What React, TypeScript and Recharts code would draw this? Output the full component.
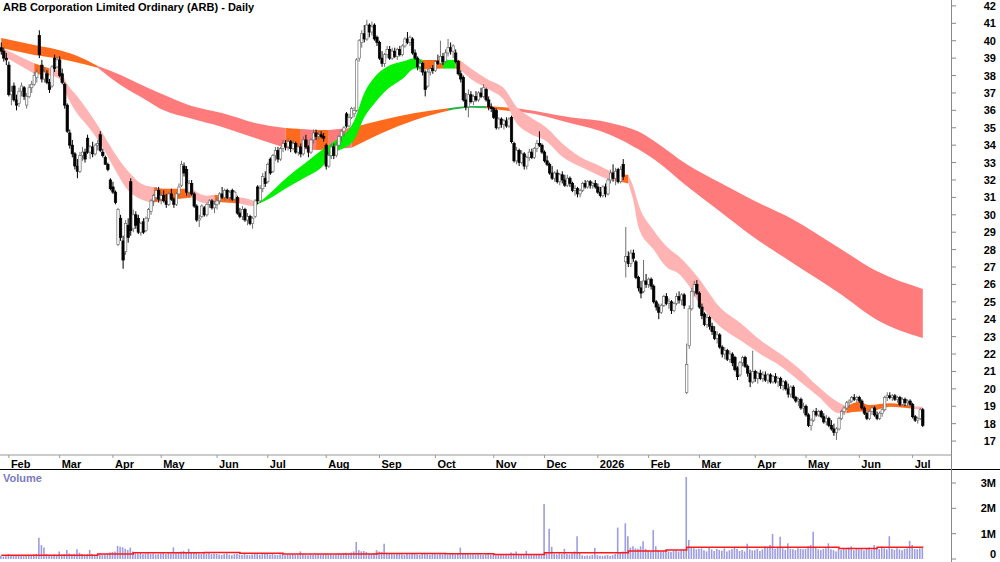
import { ComposedChart, Bar, Area, Line, XAxis, YAxis } from 'recharts'

const FONT = "'Liberation Sans', Arial, sans-serif"

// month labels and trading days in each month (first one is the tail of Jan 2025)
const months = ['Jan', 'Feb', 'Mar', 'Apr', 'May', 'Jun', 'Jul', 'Aug', 'Sep', 'Oct', 'Nov', 'Dec', '2026', 'Feb', 'Mar', 'Apr', 'May', 'Jun', 'Jul']
const monthDays = [3, 20, 21, 19, 22, 20, 23, 21, 22, 23, 20, 21, 20, 20, 22, 20, 21, 21, 5]
const emptySlots = 11

const priceTicks = [17, 18, 19, 20, 21, 22, 23, 24, 25, 26, 27, 28, 29, 30, 31, 32, 33, 34, 35, 36, 37, 38, 39, 40, 41, 42]
const volTicks = [0, 1, 2, 3]

// daily open, high, low, close
const ohlc: number[][] = [
  // Jan 25
  [39.6, 39.9, 39.2, 39.4], [39.4, 39.6, 38.8, 39.0], [39.0, 39.3, 38.6, 38.9],
  // Feb
  [38.6, 38.8, 36.8, 36.9], [36.9, 37.4, 36.3, 37.1], [37.4, 37.6, 36.5, 36.6], [36.6, 36.9, 36.0, 36.3], [36.4, 37.3, 36.2, 37.1],
  [37.1, 37.6, 36.8, 37.4], [37.3, 37.4, 36.6, 36.8], [36.3, 37.0, 36.1, 36.8], [36.8, 37.5, 36.7, 37.3], [37.3, 37.7, 37.0, 37.5],
  [37.5, 38.2, 37.4, 38.0], [37.9, 38.4, 37.6, 38.2], [40.3, 40.6, 39.0, 39.2], [38.6, 38.9, 37.6, 37.8], [37.8, 38.4, 37.6, 38.2],
  [38.1, 38.3, 37.5, 37.6], [37.6, 37.8, 37.0, 37.2], [37.4, 38.6, 37.3, 38.5], [39.0, 39.2, 38.2, 38.4], [38.5, 39.1, 38.4, 38.9],
  // Mar
  [38.9, 39.1, 37.9, 38.0], [38.1, 38.4, 37.5, 37.6], [37.5, 37.6, 36.1, 36.3], [36.3, 36.4, 34.7, 34.8], [34.7, 34.9, 33.8, 34.0],
  [34.0, 34.3, 33.3, 33.5], [33.5, 33.6, 32.6, 32.8], [32.8, 33.2, 32.1, 32.5], [32.5, 33.6, 32.4, 33.4], [33.4, 33.9, 33.1, 33.6],
  [33.6, 33.8, 33.0, 33.2], [34.4, 34.6, 33.5, 33.6], [33.6, 34.0, 33.2, 33.9], [33.9, 34.2, 33.3, 33.5], [33.5, 34.1, 33.4, 34.0],
  [34.0, 34.3, 33.7, 34.1], [34.6, 34.8, 33.6, 33.7], [33.6, 33.8, 33.3, 33.4], [33.3, 33.4, 32.9, 32.9], [32.9, 33.0, 32.5, 32.6],
  [32.0, 32.1, 31.4, 31.5],
  // Apr
  [31.6, 31.9, 31.2, 31.3], [31.3, 31.4, 30.6, 30.7], [28.3, 30.4, 28.2, 30.3], [29.8, 30.0, 28.5, 28.7], [28.5, 28.8, 26.9, 27.4],
  [27.9, 29.7, 27.7, 29.5], [29.4, 29.8, 28.4, 28.7], [31.9, 32.1, 28.8, 29.1], [29.2, 30.3, 29.0, 30.0], [30.0, 30.2, 29.2, 29.4],
  [29.8, 30.0, 28.9, 29.0], [29.0, 29.6, 28.8, 29.5], [29.6, 29.8, 28.9, 29.0], [29.1, 29.9, 29.0, 29.8], [29.8, 30.4, 29.6, 30.3],
  [30.2, 30.9, 30.0, 30.8], [30.8, 31.2, 30.5, 31.1], [31.0, 31.6, 30.8, 31.4], [31.4, 31.6, 30.7, 30.9],
  // May
  [30.9, 31.3, 30.6, 31.1], [31.1, 31.4, 30.7, 30.8], [30.8, 31.2, 30.4, 30.6], [30.6, 31.3, 30.5, 31.2], [31.2, 31.5, 30.8, 30.9],
  [30.9, 31.0, 30.4, 30.6], [30.6, 31.3, 30.5, 31.2], [31.2, 31.8, 31.0, 31.6], [31.7, 33.1, 31.6, 32.9], [32.8, 33.0, 32.2, 32.4],
  [32.6, 32.8, 31.1, 31.3], [31.3, 32.0, 31.0, 31.8], [31.8, 32.0, 31.1, 31.2], [31.2, 31.3, 30.4, 30.5], [30.5, 30.6, 29.6, 29.7],
  [29.7, 30.0, 29.3, 29.8], [29.9, 30.6, 29.8, 30.5], [30.4, 30.5, 29.9, 30.0], [30.0, 30.7, 29.9, 30.6], [30.6, 30.9, 30.4, 30.8],
  [30.8, 30.9, 30.3, 30.4], [30.4, 30.8, 30.1, 30.6],
  // Jun
  [30.6, 31.0, 30.3, 30.8], [30.8, 31.3, 30.6, 31.2], [31.2, 31.6, 30.9, 31.0], [31.0, 31.5, 30.8, 31.4], [31.4, 31.5, 30.9, 31.0],
  [31.0, 31.4, 30.8, 31.3], [31.4, 31.5, 30.8, 30.9], [30.9, 31.4, 30.8, 31.3], [31.0, 31.1, 30.0, 30.1], [30.1, 30.4, 29.8, 29.9],
  [29.9, 30.5, 29.7, 30.3], [30.3, 30.4, 29.6, 29.7], [29.7, 30.1, 29.4, 29.9], [29.9, 30.0, 29.4, 29.5], [29.5, 29.9, 29.2, 29.8],
  [29.9, 30.9, 29.8, 30.8], [31.6, 31.7, 30.6, 30.8], [30.8, 31.7, 30.7, 31.5], [31.5, 32.4, 31.3, 32.2], [32.1, 32.5, 31.6, 31.8],
  // Jul
  [31.9, 33.0, 31.8, 32.9], [33.2, 33.3, 32.3, 32.4], [32.5, 33.5, 32.4, 33.4], [33.4, 33.9, 33.1, 33.7], [33.7, 33.9, 33.0, 33.2],
  [33.2, 33.9, 33.1, 33.8], [33.8, 34.3, 33.6, 34.1], [34.1, 34.3, 33.7, 33.9], [33.9, 34.4, 33.7, 34.2], [34.2, 34.3, 33.6, 33.8],
  [33.8, 34.3, 33.7, 34.1], [34.1, 34.2, 33.5, 33.6], [33.6, 34.0, 33.4, 33.9], [33.9, 34.1, 33.3, 33.5], [33.5, 34.5, 33.4, 34.3],
  [34.3, 34.6, 33.8, 33.9], [33.9, 34.0, 33.3, 33.6], [33.6, 34.4, 33.5, 34.3], [34.3, 34.9, 34.1, 34.7], [34.7, 34.9, 34.3, 34.5],
  [34.5, 34.8, 34.3, 34.6], [34.6, 34.8, 34.4, 34.5], [34.5, 34.7, 34.2, 34.4],
  // Aug
  [34.0, 34.1, 32.6, 32.8], [32.8, 33.6, 32.7, 33.4], [33.4, 34.1, 33.2, 33.9], [33.9, 34.1, 33.2, 33.4], [33.4, 34.2, 33.3, 34.0],
  [34.0, 34.6, 33.9, 34.5], [34.5, 34.9, 34.2, 34.8], [34.8, 35.1, 34.5, 35.0], [35.8, 35.9, 35.0, 35.1], [35.1, 35.8, 35.0, 35.6],
  [35.6, 36.2, 35.5, 36.1], [35.8, 36.2, 35.6, 36.0], [36.0, 39.0, 35.9, 38.9], [39.0, 40.1, 38.8, 40.0], [39.9, 40.6, 39.6, 40.4],
  [40.4, 40.9, 39.9, 40.1], [40.1, 41.2, 40.0, 40.9], [40.9, 41.0, 40.2, 40.5], [40.5, 41.1, 40.3, 40.8], [40.9, 41.0, 40.0, 40.1],
  [40.2, 40.3, 39.7, 39.9],
  // Sep
  [39.9, 40.0, 38.9, 39.0], [39.0, 39.4, 38.5, 38.7], [38.7, 39.3, 38.5, 39.2], [39.2, 39.7, 39.0, 39.5], [39.5, 39.7, 38.9, 39.0],
  [39.0, 39.6, 38.9, 39.4], [39.4, 39.6, 39.0, 39.1], [39.1, 39.6, 38.9, 39.5], [39.5, 39.7, 39.1, 39.2], [39.2, 39.8, 39.1, 39.7],
  [39.7, 40.2, 39.6, 40.1], [40.1, 40.5, 39.8, 39.9], [39.9, 40.3, 39.7, 40.2], [40.1, 40.2, 39.2, 39.3], [39.3, 39.5, 38.9, 39.0],
  [39.0, 39.1, 38.3, 38.5], [38.5, 38.9, 38.2, 38.7], [38.7, 38.8, 38.0, 38.2], [38.2, 38.3, 36.8, 37.2], [37.4, 38.4, 37.3, 38.2],
  [38.2, 38.5, 38.0, 38.4], [38.4, 38.6, 38.1, 38.3],
  // Oct
  [38.3, 38.9, 38.2, 38.8], [38.8, 39.2, 38.6, 38.7], [38.7, 40.0, 38.6, 39.1], [39.1, 39.3, 38.6, 38.8], [38.8, 39.5, 38.7, 39.3],
  [39.3, 40.1, 39.1, 39.6], [39.6, 39.9, 39.2, 39.4], [39.4, 39.8, 39.0, 39.7], [39.3, 39.5, 38.7, 38.8], [38.8, 38.9, 38.0, 38.1],
  [38.1, 38.3, 37.6, 37.8], [37.9, 38.0, 36.5, 36.6], [36.6, 37.0, 36.0, 36.2], [36.2, 37.2, 35.6, 36.9], [36.9, 37.1, 36.4, 36.5],
  [36.5, 36.9, 36.3, 36.8], [36.8, 37.1, 36.5, 36.6], [36.6, 37.1, 36.5, 37.0], [37.0, 37.3, 36.7, 36.8], [36.8, 37.5, 36.7, 37.3],
  [37.2, 37.3, 36.5, 36.6], [36.6, 36.8, 36.0, 36.2], [36.2, 36.4, 35.9, 36.1],
  // Nov
  [36.1, 36.2, 35.5, 35.6], [36.0, 36.1, 34.9, 35.0], [35.0, 35.6, 34.9, 35.5], [35.5, 35.6, 35.0, 35.2], [35.2, 35.5, 34.9, 35.4],
  [35.4, 35.6, 35.0, 35.1], [35.1, 35.6, 35.0, 35.5], [35.6, 35.7, 34.1, 34.2], [34.1, 34.2, 33.0, 33.1], [33.1, 33.9, 32.9, 33.7],
  [33.7, 33.8, 32.8, 33.0], [33.0, 33.7, 32.9, 33.5], [33.5, 33.6, 32.6, 32.8], [32.8, 33.4, 32.6, 33.3], [33.3, 33.8, 33.1, 33.6],
  [33.6, 33.8, 33.2, 33.3], [33.3, 33.9, 33.2, 33.8], [33.8, 34.3, 33.6, 34.1], [34.1, 34.8, 33.9, 34.0], [34.0, 34.1, 33.5, 33.6],
  // Dec
  [33.6, 33.7, 33.0, 33.1], [33.1, 33.4, 32.8, 32.9], [32.9, 33.0, 32.3, 32.4], [32.4, 32.8, 32.0, 32.1], [32.1, 32.5, 31.9, 32.4],
  [32.4, 32.6, 31.8, 31.9], [31.9, 32.4, 31.7, 32.3], [32.3, 32.5, 31.8, 32.0], [32.0, 32.3, 31.6, 31.7], [31.7, 32.3, 31.6, 32.1],
  [32.1, 32.2, 31.6, 31.8], [31.8, 31.9, 31.3, 31.4], [31.4, 31.7, 31.1, 31.5], [31.5, 31.6, 31.0, 31.2], [31.2, 31.5, 31.0, 31.4],
  [31.4, 31.9, 31.3, 31.8], [31.8, 32.0, 31.5, 31.6], [31.6, 32.0, 31.5, 31.9], [31.9, 32.0, 31.5, 31.7], [31.7, 31.9, 31.5, 31.8],
  [31.8, 32.0, 31.5, 31.6],
  // Jan 26
  [31.6, 31.8, 31.2, 31.3], [31.3, 31.6, 31.0, 31.1], [31.1, 31.7, 31.0, 31.6], [31.6, 31.8, 31.0, 31.2], [31.2, 32.1, 31.1, 32.0],
  [32.0, 32.6, 31.8, 32.4], [32.4, 32.9, 31.9, 32.1], [32.1, 32.7, 31.7, 32.5], [32.6, 32.7, 31.8, 31.9], [31.9, 32.8, 31.8, 32.6],
  [32.9, 33.2, 32.0, 32.2], [27.3, 29.3, 26.4, 27.6], [27.6, 27.9, 27.0, 27.2], [27.2, 28.0, 27.0, 27.8], [27.8, 28.0, 27.3, 27.5],
  [27.3, 27.4, 26.3, 26.4], [26.4, 26.5, 25.6, 25.8], [25.8, 26.2, 25.2, 25.5], [25.6, 27.4, 25.5, 26.2], [26.2, 26.6, 25.8, 26.0],
  // Feb
  [26.0, 26.4, 25.8, 26.3], [26.3, 26.4, 25.7, 25.9], [25.9, 26.0, 24.9, 25.0], [25.0, 25.1, 24.5, 24.7], [24.7, 24.9, 24.0, 24.4],
  [24.4, 24.9, 24.3, 24.8], [24.8, 25.4, 24.7, 25.3], [25.3, 25.5, 24.8, 24.9], [24.9, 25.2, 24.6, 25.0], [25.0, 25.1, 24.3, 24.5],
  [24.5, 25.0, 24.4, 24.9], [24.9, 25.5, 24.8, 25.3], [25.3, 25.6, 24.9, 25.1], [25.1, 25.5, 24.8, 25.4], [25.4, 25.5, 24.6, 24.8],
  [19.8, 22.6, 19.7, 21.4], [22.5, 24.8, 22.3, 24.6], [24.6, 25.8, 24.5, 25.6], [25.6, 26.2, 25.3, 26.0], [26.0, 26.25, 25.4, 25.5],
  // Mar
  [25.5, 25.6, 24.6, 24.7], [24.7, 24.9, 24.0, 24.2], [24.3, 24.4, 23.6, 23.7], [23.7, 24.3, 23.5, 24.1], [24.1, 24.2, 23.4, 23.6],
  [23.6, 23.8, 23.1, 23.3], [23.3, 23.6, 22.8, 22.9], [22.9, 23.3, 22.6, 23.1], [23.1, 23.2, 22.3, 22.4], [22.4, 22.5, 21.8, 22.0],
  [22.0, 22.4, 21.7, 22.2], [22.2, 22.3, 21.6, 21.7], [21.7, 22.2, 21.5, 22.0], [22.0, 22.1, 21.3, 21.5], [21.8, 21.9, 21.0, 21.1],
  [21.2, 21.3, 20.5, 20.7], [20.8, 21.6, 20.7, 21.5], [21.5, 21.9, 21.3, 21.8], [21.8, 21.9, 21.2, 21.3], [21.3, 21.4, 20.7, 20.9],
  [20.9, 21.1, 20.1, 20.4], [20.4, 22.2, 20.3, 21.0],
  // Apr
  [21.0, 21.1, 20.4, 20.6], [20.6, 21.0, 20.3, 20.9], [20.9, 21.1, 20.5, 20.6], [20.6, 21.0, 20.4, 20.8], [20.8, 21.0, 20.4, 20.5],
  [20.5, 20.9, 20.3, 20.8], [20.8, 20.9, 20.3, 20.4], [20.4, 20.8, 20.3, 20.7], [20.7, 20.9, 20.3, 20.4], [20.4, 20.7, 20.1, 20.6],
  [20.6, 20.7, 20.0, 20.2], [20.2, 20.5, 19.9, 20.4], [20.4, 20.5, 19.9, 20.0], [20.0, 20.3, 19.5, 19.7], [19.7, 20.2, 19.5, 20.1],
  [20.1, 20.2, 19.4, 19.5], [19.5, 19.6, 19.2, 19.3], [19.3, 19.5, 19.0, 19.4], [19.4, 19.5, 18.8, 18.9], [18.9, 19.2, 18.6, 19.0],
  // May
  [19.0, 19.1, 18.4, 18.5], [18.5, 18.6, 17.8, 17.9], [17.9, 18.3, 17.6, 18.2], [18.2, 18.8, 18.1, 18.7], [18.7, 18.9, 18.4, 18.5],
  [18.5, 18.8, 18.4, 18.7], [18.7, 18.8, 18.3, 18.4], [18.4, 18.6, 18.0, 18.1], [18.1, 18.5, 17.9, 18.3], [18.3, 18.4, 17.8, 17.9],
  [17.9, 18.2, 17.6, 17.7], [17.7, 18.0, 17.3, 17.5], [17.5, 17.8, 17.06, 17.7], [17.7, 18.4, 17.6, 18.3], [18.3, 18.8, 18.2, 18.7],
  [18.7, 19.0, 18.5, 18.9], [18.9, 19.3, 18.8, 19.2], [19.2, 19.4, 18.9, 19.3], [19.3, 19.6, 19.2, 19.5], [19.5, 19.7, 19.3, 19.4],
  [19.4, 19.6, 19.2, 19.5],
  // Jun
  [19.5, 19.6, 19.2, 19.3], [19.3, 19.4, 18.8, 18.9], [18.9, 19.0, 18.5, 18.6], [18.6, 18.7, 18.2, 18.3], [18.3, 18.8, 18.2, 18.7],
  [18.7, 19.0, 18.5, 18.9], [18.9, 19.0, 18.4, 18.5], [18.5, 18.7, 18.2, 18.3], [18.3, 18.7, 18.2, 18.6], [18.6, 18.9, 18.4, 18.8],
  [18.8, 19.6, 18.7, 19.5], [19.5, 19.8, 19.3, 19.6], [19.6, 19.8, 19.4, 19.5], [19.5, 19.7, 19.3, 19.6], [19.6, 19.7, 19.3, 19.4],
  [19.4, 19.6, 19.2, 19.5], [19.5, 19.6, 19.0, 19.1], [19.1, 19.5, 19.0, 19.4], [19.4, 19.5, 19.0, 19.2], [19.2, 19.4, 19.0, 19.3],
  [19.3, 19.4, 19.0, 19.1],
  // Jul
  [19.1, 19.2, 18.3, 18.4], [18.4, 18.5, 18.1, 18.2], [18.2, 18.4, 18.0, 18.3], [18.3, 18.9, 18.2, 18.8], [18.8, 18.9, 17.8, 17.9],
]

// daily volume, millions
const volume = [
  0.12, 0.1, 0.14,
  0.2, 0.15, 0.13, 0.16, 0.12, 0.14, 0.11, 0.13, 0.12, 0.15, 0.18, 0.2, 0.84, 0.55, 0.45, 0.2, 0.16, 0.14, 0.18, 0.15,
  0.3, 0.18, 0.2, 0.36, 0.22, 0.18, 0.2, 0.38, 0.25, 0.2, 0.17, 0.19, 0.36, 0.2, 0.16, 0.18, 0.22, 0.17, 0.19, 0.21, 0.26,
  0.28, 0.3, 0.52, 0.48, 0.46, 0.4, 0.36, 0.45, 0.3, 0.25, 0.22, 0.24, 0.2, 0.22, 0.25, 0.2, 0.22, 0.18, 0.2,
  0.22, 0.24, 0.2, 0.26, 0.22, 0.46, 0.25, 0.28, 0.3, 0.32, 0.25, 0.4, 0.28, 0.24, 0.26, 0.22, 0.2, 0.24, 0.22, 0.25, 0.2, 0.22,
  0.2, 0.18, 0.16, 0.2, 0.22, 0.17, 0.15, 0.19, 0.2, 0.18, 0.16, 0.2, 0.17, 0.15, 0.18, 0.21, 0.19, 0.17, 0.2, 0.22,
  0.2, 0.18, 0.22, 0.17, 0.16, 0.19, 0.2, 0.15, 0.18, 0.17, 0.2, 0.16, 0.18, 0.3, 0.2, 0.17, 0.15, 0.19, 0.16, 0.18, 0.2, 0.17, 0.19,
  0.22, 0.18, 0.2, 0.17, 0.19, 0.22, 0.2, 0.24, 0.25, 0.22, 0.26, 0.3, 0.67, 0.35, 0.3, 0.32, 0.28, 0.22, 0.2, 0.24, 0.35,
  0.3, 0.28, 0.6, 0.25, 0.22, 0.2, 0.18, 0.2, 0.22, 0.19, 0.17, 0.2, 0.18, 0.22, 0.2, 0.18, 0.16, 0.2, 0.24, 0.19, 0.17, 0.2,
  0.2, 0.18, 0.22, 0.19, 0.2, 0.17, 0.19, 0.21, 0.18, 0.2, 0.45, 0.24, 0.22, 0.2, 0.18, 0.19, 0.17, 0.2, 0.18, 0.16, 0.19, 0.2, 0.18,
  0.17, 0.15, 0.18, 0.16, 0.2, 0.17, 0.15, 0.26, 0.22, 0.3, 0.18, 0.2, 0.17, 0.32, 0.19, 0.16, 0.18, 0.2, 0.17, 0.15,
  2.17, 0.25, 1.19, 0.48, 0.2, 0.18, 0.22, 0.2, 0.4, 0.2, 0.18, 0.22, 0.3, 0.9, 0.25, 0.15, 0.12, 0.14, 0.13, 0.16, 0.43,
  0.15, 0.13, 0.12, 0.14, 0.16, 0.12, 0.15, 0.2, 1.24, 0.25, 0.3, 1.41, 0.9, 0.45, 0.5, 0.42, 0.4, 0.5, 0.7, 0.4,
  0.35, 0.3, 1.14, 0.5, 0.35, 0.3, 0.33, 0.38, 0.3, 0.28, 0.32, 0.35, 0.3, 0.33, 0.36, 3.24, 0.75, 0.45, 0.42, 0.38,
  0.4, 0.42, 0.35, 0.3, 0.45, 0.38, 0.32, 0.4, 0.36, 0.33, 0.42, 0.3, 0.35, 0.38, 0.44, 0.4, 0.32, 0.36, 0.3, 0.6, 0.38, 0.34,
  0.35, 0.4, 0.32, 0.38, 0.5, 0.45, 0.55, 0.99, 0.4, 0.48, 0.88, 0.42, 0.36, 0.62, 0.4, 0.38, 0.35, 0.42, 0.4, 0.38,
  0.4, 0.5, 0.55, 1.08, 0.45, 0.38, 0.35, 0.4, 0.42, 0.62, 0.38, 0.35, 0.3, 0.4, 0.36, 0.42, 0.38, 0.45, 0.5, 0.35, 0.4,
  0.38, 0.42, 0.35, 0.4, 0.45, 0.36, 0.55, 0.4, 0.38, 0.5, 0.42, 0.38, 0.9, 0.4, 0.36, 0.42, 0.38, 0.35, 0.4, 0.42, 0.72,
  0.55, 0.4, 0.38, 0.42, 0.45,
]

// volume average (step line), read at the bars where it changes
const volAvgIdx = [0, 38, 52, 80, 94, 111, 148, 175, 194, 214, 247, 262, 270, 330, 345, 363]
const volAvgVal = [0.15, 0.2, 0.25, 0.26, 0.23, 0.2, 0.22, 0.21, 0.18, 0.25, 0.32, 0.36, 0.46, 0.41, 0.46, 0.45]

// long-term ribbon edges read at sample bars; state per interval: m = mixed, b = bearish, g = bullish
const longIdx = [0, 13, 21, 29, 38, 47, 57, 64, 74, 87, 100, 112, 118, 124, 129, 138, 150, 163, 176, 185, 191, 201, 205, 224, 240, 251, 257, 270, 283, 296, 311, 331, 345, 363]
const longHi = [40.16, 39.76, 39.53, 39.18, 38.55, 38.03, 37.34, 36.9, 36.3, 35.85, 35.28, 34.99, 34.93, 34.87, 34.87, 35.0, 35.45, 35.85, 36.12, 36.25, 36.25, 36.15, 36.08, 35.6, 35.28, 34.78, 34.25, 32.9, 31.85, 30.85, 29.8, 28.0, 26.75, 25.74]
const longLo = [39.59, 39.18, 39.01, 38.78, 38.45, 37.46, 36.6, 36.0, 35.56, 35.05, 34.41, 33.84, 33.78, 33.72, 33.75, 33.85, 34.7, 35.45, 35.98, 36.15, 36.12, 35.95, 35.9, 35.27, 34.59, 33.76, 33.2, 31.65, 30.2, 28.75, 27.3, 25.4, 23.95, 22.92]
const longState = 'mmmmbbbbbbbmbmbmmmggmbbbbbbbbbbbb'

// short-term ribbon
const shortIdx = [0, 13, 19, 23, 26, 30, 34, 39, 44, 50, 55, 60, 64, 75, 81, 84, 94, 100, 101, 104, 113, 120, 126, 131, 139, 143, 147, 152, 158, 163, 166, 174, 179, 181, 185, 192, 198, 203, 208, 215, 221, 228, 235, 240, 244, 247, 249, 251, 257, 262, 267, 271, 275, 283, 291, 299, 307, 314, 322, 330, 333, 338, 342, 350, 359, 363]
const shortHi = [39.6, 38.7, 38.4, 38.3, 37.5, 36.8, 36.0, 34.9, 33.7, 32.5, 31.8, 31.6, 31.5, 31.5, 31.1, 31.15, 31.0, 30.76, 30.65, 31.0, 32.2, 33.0, 33.7, 34.2, 35.4, 37.0, 37.9, 38.5, 38.8, 39.0, 38.9, 38.9, 38.9, 38.85, 38.4, 37.75, 37.27, 36.2, 35.64, 34.97, 34.1, 33.34, 32.86, 32.5, 32.3, 32.3, 31.6, 30.6, 29.1, 28.2, 27.6, 27.0, 26.3, 24.7, 23.8, 22.8, 22.0, 21.2, 20.1, 19.2, 19.0, 19.25, 19.07, 19.17, 19.0, 18.97]
const shortLo = [39.2, 38.1, 38.0, 37.8, 36.8, 35.8, 35.1, 34.1, 32.8, 31.4, 30.9, 30.7, 30.8, 31.0, 30.66, 30.75, 30.65, 30.5, 30.6, 30.8, 31.6, 32.17, 32.7, 33.5, 34.3, 35.6, 36.4, 37.2, 37.8, 38.4, 38.35, 38.4, 38.4, 38.3, 37.8, 37.2, 36.6, 35.26, 34.68, 34.2, 33.34, 32.77, 32.29, 32.0, 31.9, 31.8, 30.8, 29.3, 28.0, 27.0, 26.6, 25.9, 24.9, 23.6, 22.8, 22.0, 21.3, 20.5, 19.55, 18.6, 18.6, 18.7, 18.7, 18.97, 18.85, 18.8]
const shortState = 'bmbbbbbbbbbmmbbmbbggggggggggggmgmbbbbbbbbbbbmbbbbbbbbbbbbbbbmmmmb'

const longColors: Record<string, string> = { m: '#ff6a1c', b: '#ff7a7a', g: '#2fb24c' }
const shortColors: Record<string, string> = { m: '#ff6a1c', b: '#ffb3b3', g: '#00f000' }

// ---- build rows
const rows: any[] = Array.from({ length: ohlc.length + emptySlots }, (_, i) => ({ i }))
ohlc.forEach(([o, h, l, c], i) => Object.assign(rows[i], { o, h, l, c, range: [l, h], vol: volume[i] }))
volAvgIdx.forEach((ix, k) => { rows[ix].va = volAvgVal[k] })

const monthStart: number[] = []
monthDays.reduce((acc, d) => { monthStart.push(acc); return acc + d }, 0)
const tickIdx = monthStart.slice(1)
const tickName: Record<number, string> = {}
monthStart.forEach((s, k) => { tickName[s] = months[k] })

function addRibbon(prefix: string, idx: number[], hi: number[], lo: number[], state: string) {
  const segs: { key: string; state: string }[] = []
  let k = 0
  while (k < idx.length - 1) {
    let e = k
    while (e + 1 < idx.length - 1 && state[e + 1] === state[k]) e++
    const key = prefix + segs.length
    for (let s = k; s <= e + 1; s++) rows[idx[s]][key] = [lo[s], hi[s]]
    segs.push({ key, state: state[k] })
    k = e + 1
  }
  return segs
}
const longSegs = addRibbon('L', longIdx, longHi, longLo, longState)
const shortSegs = addRibbon('S', shortIdx, shortHi, shortLo, shortState)

const Candle = (props: any) => {
  const { x, y, width, height, payload } = props
  if (!payload || payload.o == null) return null
  const { o, h, l, c } = payload
  const k = h - l > 0 ? height / (h - l) : 0
  const cx = x + width / 2
  const top = y + (h - Math.max(o, c)) * k
  const bot = y + (h - Math.min(o, c)) * k
  const up = c >= o
  const col = up ? '#707070' : '#000'
  return (
    <g>
      <line x1={cx} x2={cx} y1={y} y2={y + height} stroke={col} strokeWidth={1} />
      <rect x={cx - 1.2} y={top} width={2.4} height={Math.max(bot - top, 0.8)} fill={up ? '#fff' : '#000'} stroke={col} strokeWidth={0.7} />
    </g>
  )
}

const MonthTick = ({ x, y, payload }: any) => (
  <text x={x + 2} y={y + 8} fontSize={11} fontWeight="bold" fill="#000" fontFamily={FONT}>{tickName[payload.value]}</text>
)
const PriceTick = ({ x, y, payload }: any) => (
  <text x={x + 38} y={y + 4} textAnchor="end" fontSize={11} fontWeight="bold" fill="#000" fontFamily={FONT}>{payload.value}</text>
)
const VolTick = ({ x, y, payload }: any) => (
  <text x={x + 38} y={Math.min(y + 4, 88)} textAnchor="end" fontSize={11} fontWeight="bold" fill="#000" fontFamily={FONT}>
    {payload.value === 0 ? '0' : `${payload.value}M`}
  </text>
)

export default function App() {
  return (
    <div style={{ position: 'absolute', left: 0, top: 0, width: 1000, height: 562, background: '#fff', overflow: 'hidden', fontFamily: FONT }}>
      <ComposedChart width={1000} height={470} data={rows} margin={{ top: 0, right: 0, bottom: 0, left: 0 }}>
        <XAxis dataKey="i" ticks={tickIdx} interval={0} tick={<MonthTick />} tickSize={3} tickLine={{ stroke: '#999' }} axisLine={{ stroke: '#999' }} height={15} />
        <YAxis orientation="right" width={48} domain={[16.2, 42.34]} ticks={priceTicks} interval={0} allowDataOverflow tick={<PriceTick />} tickSize={4} tickLine={{ stroke: '#888' }} axisLine={false} />
        {longSegs.map((s) => (
          <Area key={s.key} dataKey={s.key} type="monotone" stroke="none" fill={longColors[s.state]} fillOpacity={1} connectNulls dot={false} activeDot={false} isAnimationActive={false} />
        ))}
        {shortSegs.map((s) => (
          <Area key={s.key} dataKey={s.key} type="monotone" stroke="none" fill={shortColors[s.state]} fillOpacity={1} connectNulls dot={false} activeDot={false} isAnimationActive={false} />
        ))}
        <Bar dataKey="range" shape={Candle} isAnimationActive={false} />
      </ComposedChart>
      <div style={{ position: 'absolute', left: 0, top: 469, width: 1000, height: 1, background: '#000' }} />
      <div style={{ position: 'absolute', top: 470, left: 0 }}>
        <ComposedChart width={1000} height={92} data={rows} margin={{ top: 1, right: 0, bottom: 3, left: 0 }}>
          <XAxis dataKey="i" hide />
          <YAxis orientation="right" width={48} domain={[0, 3.474]} ticks={volTicks} interval={0} allowDataOverflow tick={<VolTick />} tickSize={4} tickLine={{ stroke: '#888' }} axisLine={false} />
          <Bar dataKey="vol" fill="#9c9ce2" barSize={1.6} isAnimationActive={false} />
          <Line dataKey="va" type="stepAfter" stroke="#ff1a1a" strokeWidth={1.5} dot={false} activeDot={false} connectNulls isAnimationActive={false} />
        </ComposedChart>
      </div>
      <div style={{ position: 'absolute', left: 951, top: 0, width: 1, height: 562, background: '#888' }} />
      <div style={{ position: 'absolute', left: 3, top: 1, fontSize: 11, fontWeight: 'bold', color: '#000', lineHeight: '13px' }}>
        ARB Corporation Limited Ordinary (ARB) - Daily
      </div>
      <div style={{ position: 'absolute', left: 3, top: 472, fontSize: 11, fontWeight: 'bold', color: '#7a7ac2', lineHeight: '13px' }}>
        Volume
      </div>
    </div>
  )
}
